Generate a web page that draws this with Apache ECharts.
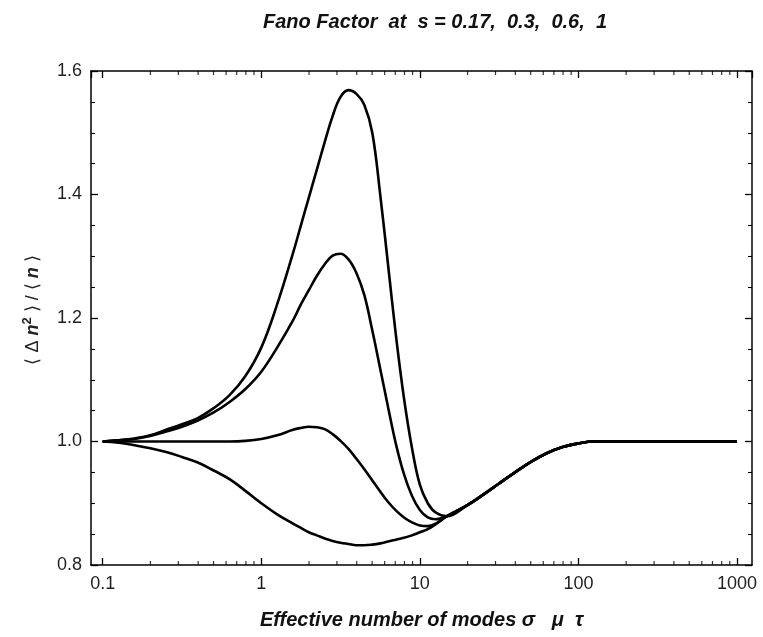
<!DOCTYPE html>
<html><head><meta charset="utf-8">
<script src="https://cdn.jsdelivr.net/npm/echarts@6/dist/echarts.min.js"></script>
<style>html,body{margin:0;padding:0;background:#fff}#c{width:763px;height:637px}</style>
</head><body><div id="c"></div>
<script>
const titleText = 'Fano Factor  at  s = 0.17,  0.3,  0.6,  1';
const xAxisTitle = 'Effective number of modes σ   μ  τ';
const xTickValues = [0.1, 1, 10, 100, 1000];
const xMinorTicks = [0.2,0.3,0.4,0.5,0.6,0.7,0.8,0.9, 2,3,4,5,6,7,8,9, 20,30,40,50,60,70,80,90, 200,300,400,500,600,700,800,900];
const yTickLabels = ['0.8','1.0','1.2','1.4','1.6'];

// sample positions (x), shared by the four curves
const curveX = [0.1, 0.1259, 0.1585, 0.1995, 0.2512, 0.3162, 0.3981, 0.5012, 0.631, 0.7943,
  1, 1.259, 1.585, 1.778, 1.995, 2.239, 2.512, 2.818, 3.162, 3.548, 3.981, 4.467, 5.012, 5.623,
  6.31, 7.079, 7.943, 8.913, 10, 11.22, 12.59, 14.79];

// s = 1 (largest peak)
const s1Y = [1.000, 1.002, 1.005, 1.010, 1.019, 1.028, 1.038, 1.054, 1.075, 1.106,
  1.152, 1.222, 1.305, 1.350, 1.395, 1.440, 1.485, 1.527, 1.558, 1.569, 1.563, 1.545, 1.500, 1.400,
  1.285, 1.170, 1.070, 0.990, 0.930, 0.900, 0.885, 0.879];
// s = 0.6
const s06Y = [1.000, 1.002, 1.004, 1.009, 1.016, 1.024, 1.034, 1.047, 1.064, 1.085,
  1.113, 1.152, 1.196, 1.222, 1.245, 1.268, 1.287, 1.301, 1.304, 1.295, 1.273, 1.237, 1.180, 1.118,
  1.055, 0.995, 0.947, 0.912, 0.889, 0.877, 0.874, 0.879];
// s = 0.3
const s03Y = [1.000, 1.000, 1.000, 1.000, 1.000, 1.000, 1.000, 1.000, 1.000, 1.001,
  1.004, 1.010, 1.019, 1.022, 1.024, 1.023, 1.020, 1.012, 1.001, 0.988, 0.972, 0.955, 0.937, 0.919,
  0.902, 0.888, 0.877, 0.869, 0.864, 0.863, 0.867, 0.879];
// s = 0.17
const s017Y = [1.000, 0.998, 0.994, 0.989, 0.983, 0.975, 0.966, 0.953, 0.939, 0.920,
  0.900, 0.882, 0.867, 0.860, 0.853, 0.848, 0.843, 0.839, 0.836, 0.834, 0.832, 0.832, 0.833, 0.835,
  0.838, 0.841, 0.844, 0.848, 0.853, 0.858, 0.866, 0.879];

// shared tail after all curves merge
const tailX = [19.95, 25.12, 31.62, 39.81, 50.12, 63.1, 79.43, 100, 125.9, 199.5, 1000];
const tailY = [0.897, 0.914, 0.932, 0.950, 0.967, 0.981, 0.991, 0.997, 1.0, 1.0, 1.0];

const xMin = 0.0844, xMax = 1243, yMin = 0.8, yMax = 1.6;

function pairs(ys) {
  const xa = curveX.concat(tailX), ya = ys.concat(tailY);
  return xa.map((x, i) => [x, ya[i]]);
}
const fontFam = '"Liberation Sans", Arial, sans-serif';
const lineSeries = [['s=1', s1Y], ['s=0.6', s06Y], ['s=0.3', s03Y], ['s=0.17', s017Y]].map(([n, ys]) => ({
  name: n, type: 'line', data: pairs(ys), smooth: 0.4, showSymbol: false, symbol: 'none',
  lineStyle: { color: '#000', width: 2.6 }, xAxisIndex: 0, yAxisIndex: 0, z: 2
}));

const minorBottom = {
  type: 'scatter', xAxisIndex: 0, yAxisIndex: 0, silent: true, clip: false, z: 5,
  symbol: 'rect', symbolSize: [1.2, 4], symbolOffset: [0, -2],
  itemStyle: { color: '#000' }, data: xMinorTicks.map(x => [x, yMin])
};
const minorTop = {
  type: 'scatter', xAxisIndex: 0, yAxisIndex: 0, silent: true, clip: false, z: 5,
  symbol: 'rect', symbolSize: [1.2, 4], symbolOffset: [0, 2],
  itemStyle: { color: '#000' }, data: xMinorTicks.map(x => [x, yMax])
};

const fmtX = v => {
  const r = +(+v).toPrecision(6);
  return xTickValues.indexOf(r) >= 0 ? String(r) : '';
};
const fmtY = v => {
  const s = (+v).toFixed(1);
  return yTickLabels.indexOf(s) >= 0 ? s : '';
};
const axisLine = { show: true, lineStyle: { color: '#000', width: 1.5 } };
const labelStyle = { color: '#1f1f1f', fontSize: 18, fontFamily: fontFam };
const tickStyle = { show: true, inside: true, length: 7, lineStyle: { color: '#000', width: 1.3 } };

const option = {
  animation: false,
  backgroundColor: '#fff',
  title: {
    text: titleText, left: 430, top: 7, textAlign: 'center',
    textStyle: { fontFamily: fontFam, fontStyle: 'italic', fontWeight: 'bold', fontSize: 20, color: '#111' }
  },
  grid: { left: 91, right: 11, top: 71, bottom: 72, containLabel: false },
  xAxis: [
    { type: 'log', logBase: 10, min: xMin, max: xMax, position: 'bottom',
      axisLine, splitLine: { show: false }, axisTick: tickStyle,
      axisLabel: { ...labelStyle, margin: 10, formatter: fmtX, showMinLabel: false, showMaxLabel: false },
      name: xAxisTitle, nameLocation: 'middle', nameGap: 45,
      nameTextStyle: { fontFamily: fontFam, fontStyle: 'italic', fontWeight: 'bold', fontSize: 20, color: '#111' }
    },
    { type: 'log', logBase: 10, min: xMin, max: xMax, position: 'top',
      axisLine, splitLine: { show: false }, axisTick: tickStyle,
      axisLabel: { show: false }
    }
  ],
  yAxis: [
    { type: 'value', min: yMin, max: yMax, interval: 0.2, position: 'left',
      axisLine, splitLine: { show: false }, axisTick: tickStyle,
      minorTick: { show: true, splitNumber: 4, length: 4, lineStyle: { color: '#000', width: 1.1 } },
      axisLabel: { ...labelStyle, margin: 9, formatter: fmtY },
      name: '⟨ Δ {b|n}{sup|2} ⟩ / ⟨ {b|n} ⟩', nameLocation: 'middle', nameGap: 46, nameRotate: 90,
      nameTextStyle: { fontFamily: fontFam, fontSize: 18, color: '#222', lineHeight: 24, padding: [0, 0, 0, 16],
        rich: {
          b: { fontFamily: fontFam, fontSize: 18, fontStyle: 'italic', fontWeight: 'bold', color: '#222', lineHeight: 24 },
          sup: { fontFamily: fontFam, fontSize: 13, fontWeight: 'bold', color: '#222', verticalAlign: 'top', lineHeight: 24 }
        } }
    },
    { type: 'value', min: yMin, max: yMax, interval: 0.2, position: 'right',
      axisLine, splitLine: { show: false }, axisTick: tickStyle,
      minorTick: { show: true, splitNumber: 4, length: 4, lineStyle: { color: '#000', width: 1.1 } },
      axisLabel: { show: false }
    }
  ],
  series: lineSeries.concat([minorBottom, minorTop])
};
const chart = echarts.init(document.getElementById('c'), null, { renderer: 'canvas' });
chart.setOption(option);
</script>
</body></html>
